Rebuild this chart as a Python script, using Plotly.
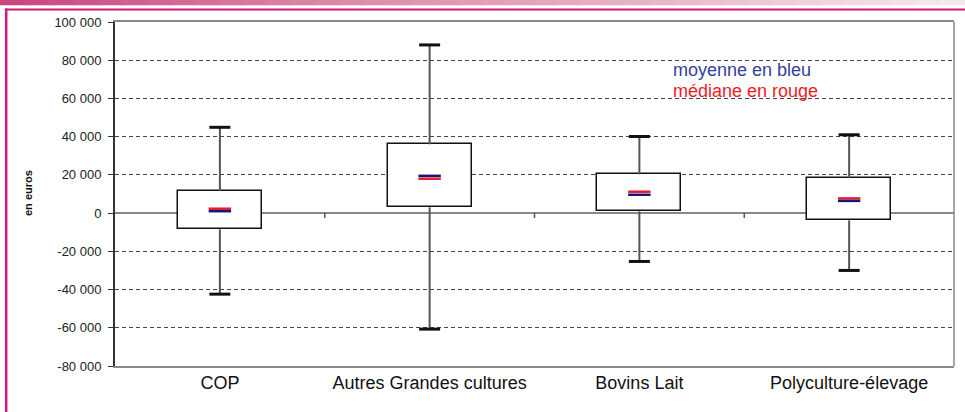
import plotly.graph_objects as go

# ---- data ----
categories = ["COP", "Autres Grandes cultures", "Bovins Lait", "Polyculture-élevage"]
whisker_high = [44900, 88000, 40100, 41000]
q3 = [11500, 36000, 20300, 18500]
q1 = [-8500, 3000, 900, -3800]
whisker_low = [-42400, -60700, -25300, -30000]
median = [2300, 18000, 11200, 7700]
mean = [1000, 19500, 9600, 6400]

ytick_vals = [-80000, -60000, -40000, -20000, 0, 20000, 40000, 60000, 80000, 100000]
ytick_text = ["-80 000", "-60 000", "-40 000", "-20 000", "0",
              "20 000", "40 000", "60 000", "80 000", "100 000"]

pos = list(range(len(categories)))

# plot-area geometry in pixels (for decoration placement)
W, H = 965, 412
L, R, T, B = 115, 11, 22, 46
PW, PH = W - L - R, H - T - B


def px(x):
    return (x - L) / PW


def py(y):
    return (H - B - y) / PH


fig = go.Figure()

# boxes
fig.add_trace(go.Bar(
    x=pos, base=q1, y=[a - b for a, b in zip(q3, q1)], width=0.4,
    marker=dict(color="white", line=dict(color="#111", width=1.5)),
    hoverinfo="skip", showlegend=False))

# whiskers
wx, wy = [], []
for i, p in enumerate(pos):
    wx += [p, p, None, p, p, None]
    wy += [q3[i], whisker_high[i], None, q1[i], whisker_low[i], None]
fig.add_trace(go.Scatter(x=wx, y=wy, mode="lines",
                         line=dict(color="#555", width=2),
                         hoverinfo="skip", showlegend=False))

# whisker caps
fig.add_trace(go.Scatter(x=pos + pos, y=whisker_high + whisker_low, mode="markers",
                         marker=dict(symbol="line-ew", size=15,
                                     line=dict(color="#111", width=3)),
                         hoverinfo="skip", showlegend=False))

# median (red) and mean (blue)
fig.add_trace(go.Scatter(x=pos, y=median, mode="markers", name="médiane",
                         marker=dict(symbol="line-ew", size=16,
                                     line=dict(color="#e81c28", width=2.5)),
                         showlegend=False))
fig.add_trace(go.Scatter(x=pos, y=mean, mode="markers", name="moyenne",
                         marker=dict(symbol="line-ew", size=16,
                                     line=dict(color="#14147a", width=2.5)),
                         showlegend=False))

shapes = []
# gradient band at top
stops = [(0.0, (200, 69, 127)), (0.35, (220, 138, 170)),
         (0.68, (232, 182, 201)), (1.0, (247, 236, 240))]


def interp(t):
    for (t0, c0), (t1, c1) in zip(stops[:-1], stops[1:]):
        if t0 <= t <= t1:
            f = (t - t0) / (t1 - t0)
            return "rgb(%d,%d,%d)" % tuple(round(a + (b - a) * f) for a, b in zip(c0, c1))
    return "rgb(%d,%d,%d)" % stops[-1][1]


N = 40
for k in range(N):
    x0 = W * k / N
    x1 = W * (k + 1) / N + 1
    shapes.append(dict(type="rect", xref="paper", yref="paper",
                       x0=px(x0), x1=px(x1), y0=py(5.3), y1=py(0),
                       fillcolor=interp((k + 0.5) / N), line=dict(width=0),
                       layer="above"))
# pink frame lines
shapes.append(dict(type="line", xref="paper", yref="paper",
                   x0=px(5), x1=px(W), y0=py(9.5), y1=py(9.5),
                   line=dict(color="#d4177a", width=2.2)))
shapes.append(dict(type="line", xref="paper", yref="paper",
                   x0=px(6.2), x1=px(6.2), y0=py(8.5), y1=py(H),
                   line=dict(color="#d4177a", width=2.5)))
# right border of plot
shapes.append(dict(type="line", xref="paper", yref="paper",
                   x0=1, x1=1, y0=0, y1=1, line=dict(color="#888", width=1.5)))
# white background behind the note
shapes.append(dict(type="rect", xref="paper", yref="paper",
                   x0=px(655), x1=px(848), y0=py(110), y1=py(48),
                   fillcolor="white", line=dict(width=0), layer="below"))
# category boundary ticks on the zero line
for b in [p + 0.5 for p in pos[:-1]]:
    shapes.append(dict(type="line", xref="x", yref="y", ysizemode="pixel",
                       yanchor=0, x0=b, x1=b, y0=0, y1=-5,
                       line=dict(color="#555", width=1.5)))

annotations = [
    dict(text="moyenne en bleu", xref="paper", yref="paper", x=px(671), y=py(70),
         xanchor="left", yanchor="middle", showarrow=False,
         font=dict(family="Liberation Sans, Arial", size=18, color="#33409a")),
    dict(text="médiane en rouge", xref="paper", yref="paper", x=px(671), y=py(91),
         xanchor="left", yanchor="middle", showarrow=False,
         font=dict(family="Liberation Sans, Arial", size=18, color="#ee1c25")),
    dict(text="<b>en euros</b>", xref="paper", yref="paper", x=px(28), y=py(193),
         xanchor="center", yanchor="middle", textangle=-90, showarrow=False,
         font=dict(family="Liberation Sans, Arial", size=11, color="#111")),
]

fig.update_layout(
    width=W, height=H,
    margin=dict(l=L, r=R, t=T, b=B, pad=0),
    paper_bgcolor="white", plot_bgcolor="white",
    bargap=0, showlegend=False,
    shapes=shapes, annotations=annotations,
    font=dict(family="Liberation Sans, Arial", color="#111"),
    xaxis=dict(range=[-0.5, 3.5], tickvals=pos, ticktext=categories,
               showgrid=False, zeroline=False, ticks="",
               showline=True, mirror=True, linecolor="#888", linewidth=1.5,
               tickfont=dict(size=18, color="#111"), ticklabelstandoff=0,
               fixedrange=True),
    yaxis=dict(range=[-80000, 100000], tickvals=ytick_vals, ticktext=ytick_text,
               showgrid=True, gridcolor="#444", gridwidth=1, griddash="4px,3px",
               zeroline=True, zerolinecolor="#888", zerolinewidth=1.5,
               showline=True, linecolor="#333", linewidth=2,
               ticks="outside", ticklen=5, tickcolor="#333", tickwidth=1,
               tickfont=dict(size=13, color="#222"), ticklabelstandoff=4,
               fixedrange=True),
)

fig.write_html("out.html",
               config={"displayModeBar": False},
               post_script="document.body.style.margin='0';"
                           "document.body.style.overflow='hidden';")
